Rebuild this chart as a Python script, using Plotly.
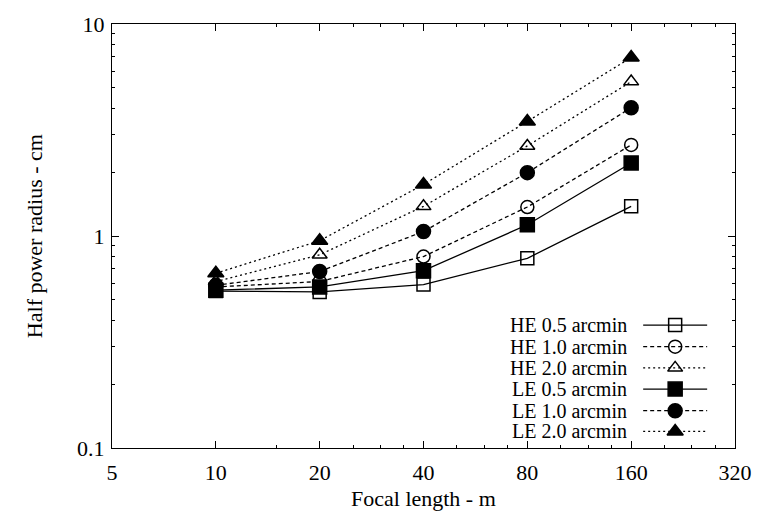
import plotly.graph_objects as go

# Focal lengths (m) and half power radius (cm) for each configuration
focal_length = [10, 20, 40, 80, 160]

he_05 = [0.55, 0.545, 0.59, 0.785, 1.38]
he_10 = [0.575, 0.61, 0.80, 1.37, 2.69]
he_20 = [0.61, 0.815, 1.38, 2.66, 5.35]
le_05 = [0.555, 0.575, 0.686, 1.13, 2.21]
le_10 = [0.585, 0.68, 1.05, 1.99, 4.03]
le_20 = [0.667, 0.95, 1.75, 3.47, 6.95]

series_names = ["HE 0.5 arcmin", "HE 1.0 arcmin", "HE 2.0 arcmin",
                "LE 0.5 arcmin", "LE 1.0 arcmin", "LE 2.0 arcmin"]
series_values = [he_05, he_10, he_20, le_05, le_10, le_20]

x_tick_values = [5, 10, 20, 40, 80, 160, 320]
x_tick_labels = ["5", "10", "20", "40", "80", "160", "320"]
x_minor_values = [15, 25, 30, 35, 50, 60, 70, 100, 120, 140, 200, 240, 280]
y_tick_values = [0.1, 1, 10]
y_tick_labels = ["0.1", "1", "10"]
y_minor_values = [0.2, 0.3, 0.4, 0.5, 0.6, 0.7, 0.8, 0.9,
                  2, 3, 4, 5, 6, 7, 8, 9]

FONT = "Liberation Serif"
SOLID, DASHED, DOTTED = "solid", "4px,3px", "2px,3px"
styles = [
    ("square-open", SOLID, 13),
    ("circle-open", DASHED, 13),
    ("triangle-up-open", DOTTED, 13),
    ("square", SOLID, 14),
    ("circle", DASHED, 14),
    ("triangle-up", DOTTED, 14),
]

fig = go.Figure()

for name, vals, (sym, dash, size) in zip(series_names, series_values, styles):
    fig.add_trace(go.Scatter(
        x=focal_length, y=vals, name=name, mode="lines+markers",
        line=dict(color="black", width=1.3, dash=dash),
        marker=dict(symbol=sym, size=size, color="black",
                    line=dict(color="black", width=1.5)),
        showlegend=False,
    ))

# Key drawn on an overlay axis spanning the plot area: text on the left,
# line sample with its marker on the right.
row_y = [0.290, 0.239, 0.189, 0.139, 0.088, 0.039]
key_x0, key_x1, key_text_x = 0.8526, 0.9553, 0.829
for name, ry, (sym, dash, size) in zip(series_names, row_y, styles):
    fig.add_trace(go.Scatter(
        x=[key_x0, key_x1], y=[ry, ry], mode="lines",
        line=dict(color="black", width=1.3, dash=dash),
        xaxis="x2", yaxis="y2", showlegend=False, hoverinfo="skip",
    ))
    fig.add_trace(go.Scatter(
        x=[(key_x0 + key_x1) / 2], y=[ry], mode="markers",
        marker=dict(symbol=sym, size=size, color="black",
                    line=dict(color="black", width=1.5)),
        xaxis="x2", yaxis="y2", showlegend=False, hoverinfo="skip",
    ))
    fig.add_annotation(x=key_text_x, y=ry, xref="paper", yref="paper",
                       text=name, showarrow=False, xanchor="right",
                       yanchor="middle", height=18, borderpad=0,
                       font=dict(family=FONT, size=20, color="black"))

axis_common = dict(
    showline=True, linecolor="black", linewidth=1.3, mirror="ticks",
    ticks="inside", ticklen=7, tickwidth=1, tickcolor="black",
    showgrid=False, zeroline=False,
    tickfont=dict(family=FONT, size=22, color="black"),
)

fig.update_layout(
    width=764, height=518,
    margin=dict(l=112, r=19, t=17, b=70),
    paper_bgcolor="white", plot_bgcolor="white",
    xaxis=dict(
        type="log", range=[0.69897, 2.50515],
        tickmode="array", tickvals=x_tick_values, ticktext=x_tick_labels,
        ticklabelstandoff=4,
        minor=dict(tickmode="array", tickvals=x_minor_values,
                   ticks="inside", ticklen=3, tickcolor="black",
                   showgrid=False),
        **axis_common,
    ),
    yaxis=dict(
        type="log", range=[-1, 1],
        tickmode="array", tickvals=y_tick_values, ticktext=y_tick_labels,
        ticklabelstandoff=2,
        minor=dict(tickmode="array", tickvals=y_minor_values,
                   ticks="inside", ticklen=3, tickcolor="black",
                   showgrid=False),
        **axis_common,
    ),
    xaxis2=dict(overlaying="x", range=[0, 1], visible=False,
                fixedrange=True),
    yaxis2=dict(overlaying="y", range=[0, 1], visible=False,
                fixedrange=True),
    annotations=list(fig.layout.annotations) + [
        dict(x=0.5, y=-0.118, xref="paper", yref="paper",
             text="Focal length - m", showarrow=False,
             xanchor="center", yanchor="middle",
             font=dict(family=FONT, size=22, color="black")),
        dict(x=-0.125, y=0.5, xref="paper", yref="paper",
             text="Half power radius - cm", showarrow=False,
             textangle=-90, xanchor="center", yanchor="middle",
             font=dict(family=FONT, size=22, color="black")),
    ],
)

fig.write_html("out.html")
